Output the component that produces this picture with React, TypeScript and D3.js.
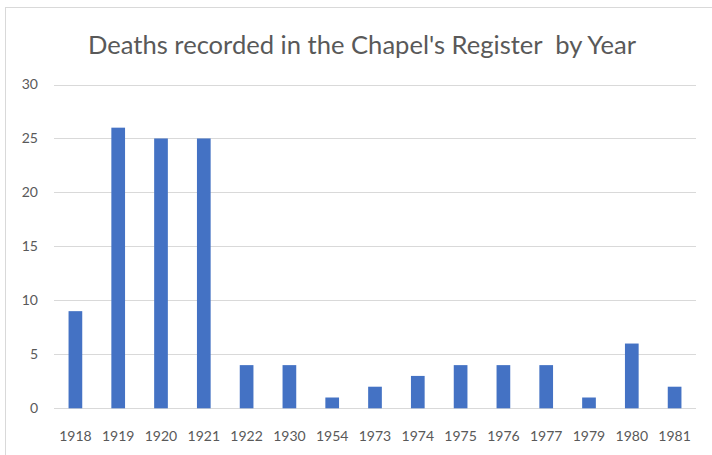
import React, { useRef, useEffect } from 'react'
import * as d3 from 'd3'

const years = ['1918', '1919', '1920', '1921', '1922', '1930', '1954', '1973', '1974', '1975', '1976', '1977', '1979', '1980', '1981']
const deaths = [9, 26, 25, 25, 4, 4, 1, 2, 3, 4, 4, 4, 1, 6, 2]
const yTicks = [0, 5, 10, 15, 20, 25, 30]
const title = "Deaths recorded in the Chapel's Register  by Year"

const W = 712
const H = 455

export default function App() {
  const ref = useRef<SVGSVGElement>(null)

  useEffect(() => {
    const svg = d3.select(ref.current)
    svg.selectAll('*').remove()

    const left = 54
    const right = 696
    const top = 84.5
    const bottom = 408.3
    const font = 'Lato, "Open Sans", sans-serif'

    // chart frame (only top and left edges visible)
    svg
      .append('rect')
      .attr('x', 5.5)
      .attr('y', 7.5)
      .attr('width', 740)
      .attr('height', 480)
      .attr('fill', 'white')
      .attr('stroke', '#d9d9d9')

    const x = d3.scaleBand().domain(years).range([left, right]).paddingInner(0.68).paddingOuter(0.34)
    const y = d3.scaleLinear().domain([0, 30]).range([bottom, top])

    svg
      .append('g')
      .selectAll('line')
      .data(yTicks)
      .enter()
      .append('line')
      .attr('x1', left)
      .attr('x2', right)
      .attr('y1', (d) => Math.round(y(d)) + 0.5)
      .attr('y2', (d) => Math.round(y(d)) + 0.5)
      .attr('stroke', '#d9d9d9')
      .attr('stroke-width', 1)

    svg
      .append('g')
      .selectAll('text')
      .data(yTicks)
      .enter()
      .append('text')
      .attr('x', 38)
      .attr('y', (d) => y(d))
      .attr('dy', '0.35em')
      .attr('text-anchor', 'end')
      .attr('fill', '#595959')
      .style('font-family', font)
      .style('font-size', '14px')
      .text((d) => d)

    svg
      .append('g')
      .selectAll('rect')
      .data(deaths)
      .enter()
      .append('rect')
      .attr('x', (d, i) => x(years[i])!)
      .attr('width', x.bandwidth())
      .attr('y', (d) => y(d))
      .attr('height', (d) => y(0) - y(d))
      .attr('fill', '#4472c4')

    svg
      .append('g')
      .selectAll('text')
      .data(years)
      .enter()
      .append('text')
      .attr('x', (d) => x(d)! + x.bandwidth() / 2)
      .attr('y', 436)
      .attr('dy', '0.35em')
      .attr('text-anchor', 'middle')
      .attr('fill', '#595959')
      .style('font-family', font)
      .style('font-size', '14px')
      .text((d) => d)

    svg
      .append('text')
      .attr('x', 362)
      .attr('y', 45)
      .attr('dy', '0.35em')
      .attr('text-anchor', 'middle')
      .attr('fill', '#595959')
      .attr('textLength', 548)
      .attr('lengthAdjust', 'spacingAndGlyphs')
      .style('font-family', font)
      .style('font-size', '25px')
      .style('white-space', 'pre')
      .text(title)
  }, [])

  return (
    <div style={{ position: 'absolute', left: 0, top: 0 }}>
      <svg ref={ref} width={W} height={H} style={{ display: 'block' }} />
    </div>
  )
}
